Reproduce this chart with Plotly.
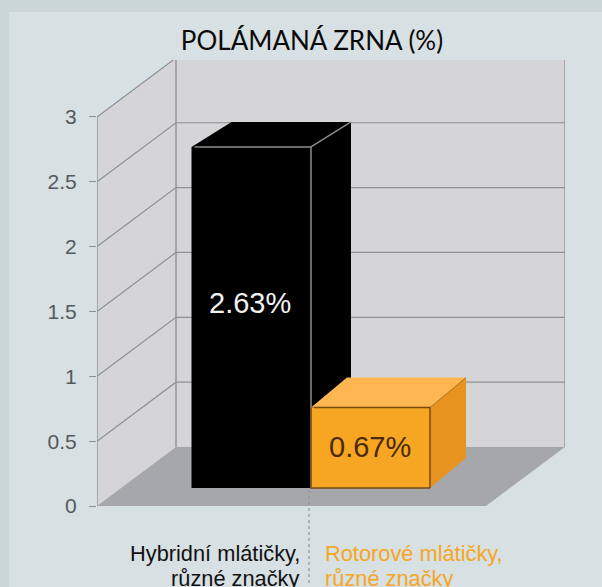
import plotly.graph_objects as go

# ---- data ----
categories = [["Hybridní mlátičky,", "různé značky"], ["Rotorové mlátičky,", "různé značky"]]
bar_labels = ["2.63%", "0.67%"]
bar_heights = [2.63, 0.62]          # drawn heights
y_ticks = [0, 0.5, 1, 1.5, 2, 2.5, 3]
y_tick_labels = ["0", "0.5", "1", "1.5", "2", "2.5", "3"]
title = "POLÁMANÁ ZRNA (%)"

# ---- layout constants ----
W, H = 602, 587
L, R, T, B = 97, 37, 60, 81
PX_PER_UNIT = 129.7
to_y = lambda px: px / PX_PER_UNIT
PLOT_W = W - L - R
PLOT_H = H - T - B
YMAX = PLOT_H / PX_PER_UNIT
DX, DY = 79, to_y(59)               # wall depth
FLOOR_W = 389
YTOP = max(y_ticks)
BAR_X = [94.5, 214]
BAR_W = [119.5, 119]
BAR_BASE = to_y(18)
BAR_DEPTH = [(40, to_y(25)), (36, to_y(30))]

INNER = "#d7e0e3"; OUTER = "#cbd6d8"; WALL = "#d5d5d7"; FLOOR = "#a6a7aa"; GRID = "#8d9193"
ORANGE = "#f6a623"
BAR_STYLE = [
    dict(front="#000000", top="#000000", side="#000000", edge="#8c8c8c", txt="#f2f2f2"),
    dict(front=ORANGE, top="#fdb650", side="#e6941f", edge="#7a4a10", txt="#4a2a06"),
]

fig = go.Figure()

def poly(xs, ys, fill):
    fig.add_trace(go.Scatter(
        x=list(xs) + [xs[0]], y=list(ys) + [ys[0]], mode="lines", fill="toself",
        fillcolor=fill, line=dict(color=fill, width=0),
        hoverinfo="skip", showlegend=False))

def seg(xs, ys, color=GRID, width=1.2):
    fig.add_trace(go.Scatter(x=xs, y=ys, mode="lines", line=dict(color=color, width=width),
                             hoverinfo="skip", showlegend=False))

# walls and floor
poly([DX, PLOT_W, PLOT_W, DX], [DY, DY, DY + YTOP, DY + YTOP], WALL)
poly([0, DX, DX, 0], [0, DY, DY + YTOP, YTOP], WALL)
poly([0, DX, PLOT_W, FLOOR_W], [0, DY, DY, 0], FLOOR)

# grid on the walls
for t in y_ticks[1:]:
    seg([0, DX, PLOT_W], [t, t + DY, t + DY])
seg([0, 0], [0, YTOP], width=1.4)
seg([DX, DX], [DY, DY + YTOP], width=1.4)
seg([PLOT_W, PLOT_W], [DY, DY + YTOP], width=1.4)

# bars
for i, h in enumerate(bar_heights):
    x0, w = BAR_X[i], BAR_W[i]
    x1 = x0 + w
    y0, y1 = BAR_BASE, BAR_BASE + h
    dx, dy = BAR_DEPTH[i]
    s = BAR_STYLE[i]
    poly([x1, x1 + dx, x1 + dx, x1], [y0, y0 + dy, y1 + dy, y1], s["side"])
    poly([x0, x0 + dx, x1 + dx, x1], [y1, y1 + dy, y1 + dy, y1], s["top"])
    poly([x0, x1, x1, x0], [y0, y0, y1, y1], s["front"])
    seg([x0 + 3, x1, x1, x1], [y1, y1, y0, y0], color=s["edge"], width=1.5)
    seg([x1, x1 + dx], [y1, y1 + dy], color=s["edge"], width=1.3 if i == 0 else 0.6)
    if i == 1:
        seg([x0, x0, x1], [y1, y0, y0], color=s["edge"], width=1.5)

# value labels
LABEL_Y = [to_y(203), to_y(59)]
for i, t in enumerate(bar_labels):
    fig.add_annotation(x=BAR_X[i] + BAR_W[i] / 2 - 1, y=LABEL_Y[i], text=t,
                       showarrow=False, xanchor="center", yanchor="middle",
                       font=dict(family="Liberation Sans", size=29, color=BAR_STYLE[i]["txt"]))

# category captions (below the plot area, so positioned on the paper)
CAP_X = [205, 226]
CAP_ANCHOR = ["right", "left"]
CAP_COLOR = ["#111111", ORANGE]
LINE_Y = [-47, -72]
for i, lines in enumerate(categories):
    for line, py in zip(lines, LINE_Y):
        fig.add_annotation(x=CAP_X[i], yref="paper", y=py / PLOT_H, text=line, showarrow=False,
                           xanchor=CAP_ANCHOR[i], yanchor="middle",
                           font=dict(family="Liberation Sans", size=21.8, color=CAP_COLOR[i]))

fig.update_layout(
    width=W, height=H, autosize=False,
    margin=dict(l=L, r=R, t=T, b=B, pad=0),
    paper_bgcolor=INNER, plot_bgcolor="rgba(0,0,0,0)", showlegend=False,
    title=dict(text=title, x=312 / W, xanchor="center", y=1 - 41 / H, yanchor="middle",
               font=dict(family="Lato", size=26, color="#0a0a0a")),
    xaxis=dict(range=[0, PLOT_W], visible=False, fixedrange=True),
    yaxis=dict(range=[0, YMAX], tickvals=y_ticks, ticktext=y_tick_labels, ticks="outside",
               ticklen=7, tickwidth=1.2, tickcolor=GRID, showgrid=False, zeroline=False,
               showline=False, fixedrange=True, ticklabelstandoff=8,
               tickfont=dict(family="Liberation Sans", size=21, color="#55595c")),
    shapes=[
        dict(type="rect", xref="paper", yref="paper", layer="below", line=dict(width=0), fillcolor=OUTER,
             x0=-L / PLOT_W, x1=(9 - L) / PLOT_W, y0=-B / PLOT_H, y1=1 + T / PLOT_H),
        dict(type="rect", xref="paper", yref="paper", layer="below", line=dict(width=0), fillcolor=OUTER,
             x0=-L / PLOT_W, x1=1 + R / PLOT_W, y0=1 + (T - 12) / PLOT_H, y1=1 + T / PLOT_H),
        # dotted leader between the two captions
        dict(type="line", xref="x", yref="paper", x0=BAR_X[1] - 2, x1=BAR_X[1] - 2,
             y0=-77 / PLOT_H, y1=16 / PLOT_H, line=dict(color="#8f9496", width=1.2, dash="dot")),
    ],
)
fig.write_html("out.html", config=dict(displayModeBar=False),
               post_script="document.body.style.margin='0';document.documentElement.style.overflow='hidden';")
